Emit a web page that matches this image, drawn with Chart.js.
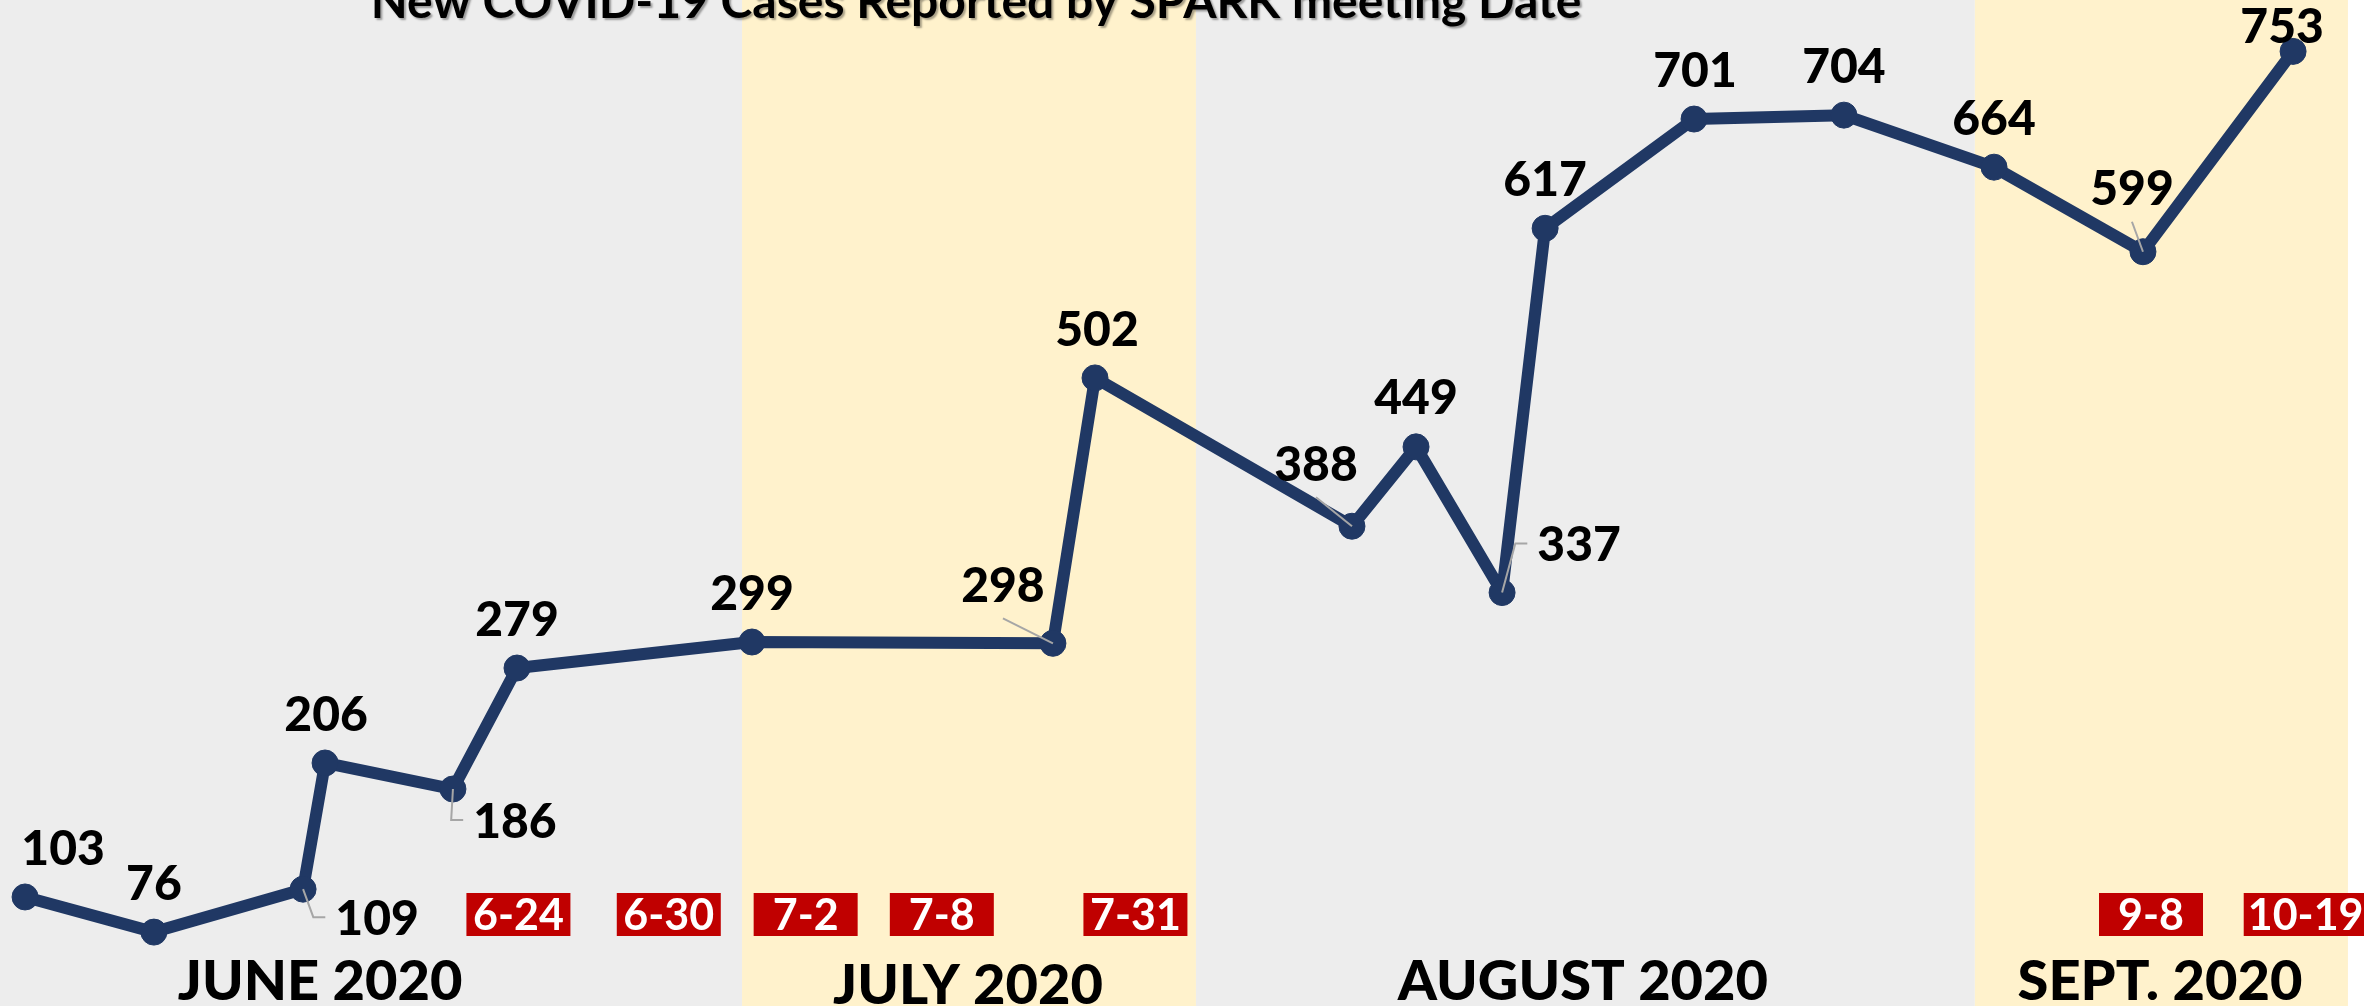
<!DOCTYPE html>
<html>
<head>
<meta charset="utf-8">
<script src="https://cdn.jsdelivr.net/npm/chart.js@4"></script>
<style>
  html, body { margin: 0; padding: 0; background: #fff; overflow: hidden; }
  #wrap { width: 2364px; height: 1006px; position: relative; }
</style>
</head>
<body>
<div id="wrap"><canvas id="casesChart"></canvas></div>
<script>
// new cases reported at each SPARK meeting
var cases = [103, 76, 109, 206, 186, 279, 299, 298, 502, 388, 449, 337, 617, 701, 704, 664, 599, 753];
// where each meeting sits on the timeline (0-1000 across the picture)
var meetingPos = [10.6, 65.1, 128.2, 137.5, 191.6, 218.7, 318.1, 445.4, 463.2, 571.9, 599.0, 635.4, 653.6, 716.6, 780.0, 843.5, 906.5, 970.0];

var months = ["JUNE 2020", "JULY 2020", "AUGUST 2020", "SEPT. 2020"];
var monthStart = [0, 313.9, 505.9, 835.4];
var monthEnd = [313.9, 505.9, 835.4, 993.2];
var monthLabelPos = [135.4, 409.5, 669.6, 913.7];

var dateTags = ["6-24", "6-30", "7-2", "7-8", "7-31", "9-8", "10-19"];
var dateTagPos = [219.3, 282.9, 340.8, 398.4, 480.3, 909.9, 975.3];

var titleText = "New COVID-19 Cases Reported by SPARK meeting Date";

// value label offset from its point (px) and leader type
var labelPlace = [
  [38, -49, ''], [0, -50, ''], [74, 28, 'elbow'], [1, -49, ''], [62, 31, 'elbow'],
  [0, -50, ''], [0, -50, ''], [-50, -59, 'line'], [2, -49, ''], [-36, -63, 'line'],
  [0, -50, ''], [77, -49, 'elbow'], [0, -50, ''], [1, -50, ''], [0, -50, ''],
  [0, -50, ''], [-11, -64, 'line'], [-11, -26, '']
];

var NAVY = '#203864';
var FONT = 'Lato, "Open Sans", sans-serif';

var points = cases.map(function (v, i) { return { x: meetingPos[i], y: v }; });

var decorPlugin = {
  id: 'decor',
  beforeDatasetsDraw: function (chart) {
    var ctx = chart.ctx, xs = chart.scales.x, area = chart.chartArea;
    ctx.save();
    // month bands
    for (var i = 0; i < months.length; i++) {
      var x0 = xs.getPixelForValue(monthStart[i]);
      var x1 = xs.getPixelForValue(monthEnd[i]);
      ctx.fillStyle = (i % 2 === 0) ? '#EDEDED' : '#FFF2CC';
      ctx.fillRect(x0, area.top, x1 - x0, area.bottom - area.top);
    }
    // month names
    ctx.fillStyle = '#000';
    ctx.textAlign = 'center';
    ctx.textBaseline = 'alphabetic';
    ctx.font = '900 56px ' + FONT;
    for (var m = 0; m < months.length; m++) {
      var drop = (m === 1) ? 4 : 0;
      ctx.fillText(months[m], xs.getPixelForValue(monthLabelPos[m]), area.bottom - 6 + drop);
    }
    // red meeting-date tags
    ctx.font = 'bold 43px ' + FONT;
    for (var t = 0; t < dateTags.length; t++) {
      var cx = xs.getPixelForValue(dateTagPos[t]);
      var w = Math.max(104, ctx.measureText(dateTags[t]).width + 8);
      var top = area.bottom - 113;
      ctx.fillStyle = '#C00000';
      ctx.fillRect(cx - w / 2, top, w, 43);
      ctx.fillStyle = '#fff';
      ctx.fillText(dateTags[t], cx, top + 37);
    }
    // title
    ctx.font = 'bold 48px ' + FONT;
    ctx.shadowColor = 'rgba(0,0,0,0.35)';
    ctx.shadowOffsetX = 2;
    ctx.shadowOffsetY = 2;
    ctx.shadowBlur = 2;
    ctx.fillStyle = '#000';
    ctx.fillText(titleText, xs.getPixelForValue(412.9), area.top + 18);
    ctx.restore();
  },
  afterDatasetsDraw: function (chart) {
    var ctx = chart.ctx;
    var meta = chart.getDatasetMeta(0);
    ctx.save();
    ctx.font = '900 48px ' + FONT;
    ctx.textAlign = 'center';
    ctx.textBaseline = 'alphabetic';
    var cap = 35;
    meta.data.forEach(function (pt, i) {
      var p = labelPlace[i];
      var cx = pt.x + p[0], cy = pt.y + p[1];
      var txt = String(cases[i]);
      var w = ctx.measureText(txt).width;
      ctx.strokeStyle = '#A6A6A6';
      ctx.lineWidth = 2;
      if (p[2] === 'elbow') {
        var ex = cx - w / 2 - 10;
        ctx.beginPath();
        ctx.moveTo(pt.x, pt.y);
        ctx.lineTo(ex - 12, cy);
        ctx.lineTo(ex, cy);
        ctx.stroke();
      } else if (p[2] === 'line') {
        ctx.beginPath();
        ctx.moveTo(pt.x, pt.y);
        ctx.lineTo(cx, cy + 34);
        ctx.stroke();
      }
      ctx.fillStyle = '#000';
      ctx.fillText(txt, cx, cy + cap / 2);
    });
    ctx.restore();
  }
};

new Chart(document.getElementById('casesChart'), {
  type: 'line',
  data: {
    datasets: [{
      data: points,
      borderColor: NAVY,
      backgroundColor: NAVY,
      borderWidth: 12,
      borderJoinStyle: 'round',
      pointRadius: 13,
      pointBorderWidth: 1,
      pointBackgroundColor: NAVY,
      pointBorderColor: NAVY,
      tension: 0,
      clip: false
    }]
  },
  options: {
    responsive: true,
    maintainAspectRatio: false,
    animation: false,
    layout: { padding: 0, autoPadding: false },
    plugins: {
      legend: { display: false },
      title: { display: false },
      tooltip: { enabled: false }
    },
    scales: {
      x: { type: 'linear', min: 0, max: 1000, display: false },
      y: { min: 19.2, max: 792.5, display: false }
    }
  },
  plugins: [decorPlugin]
});
</script>
</body>
</html>
